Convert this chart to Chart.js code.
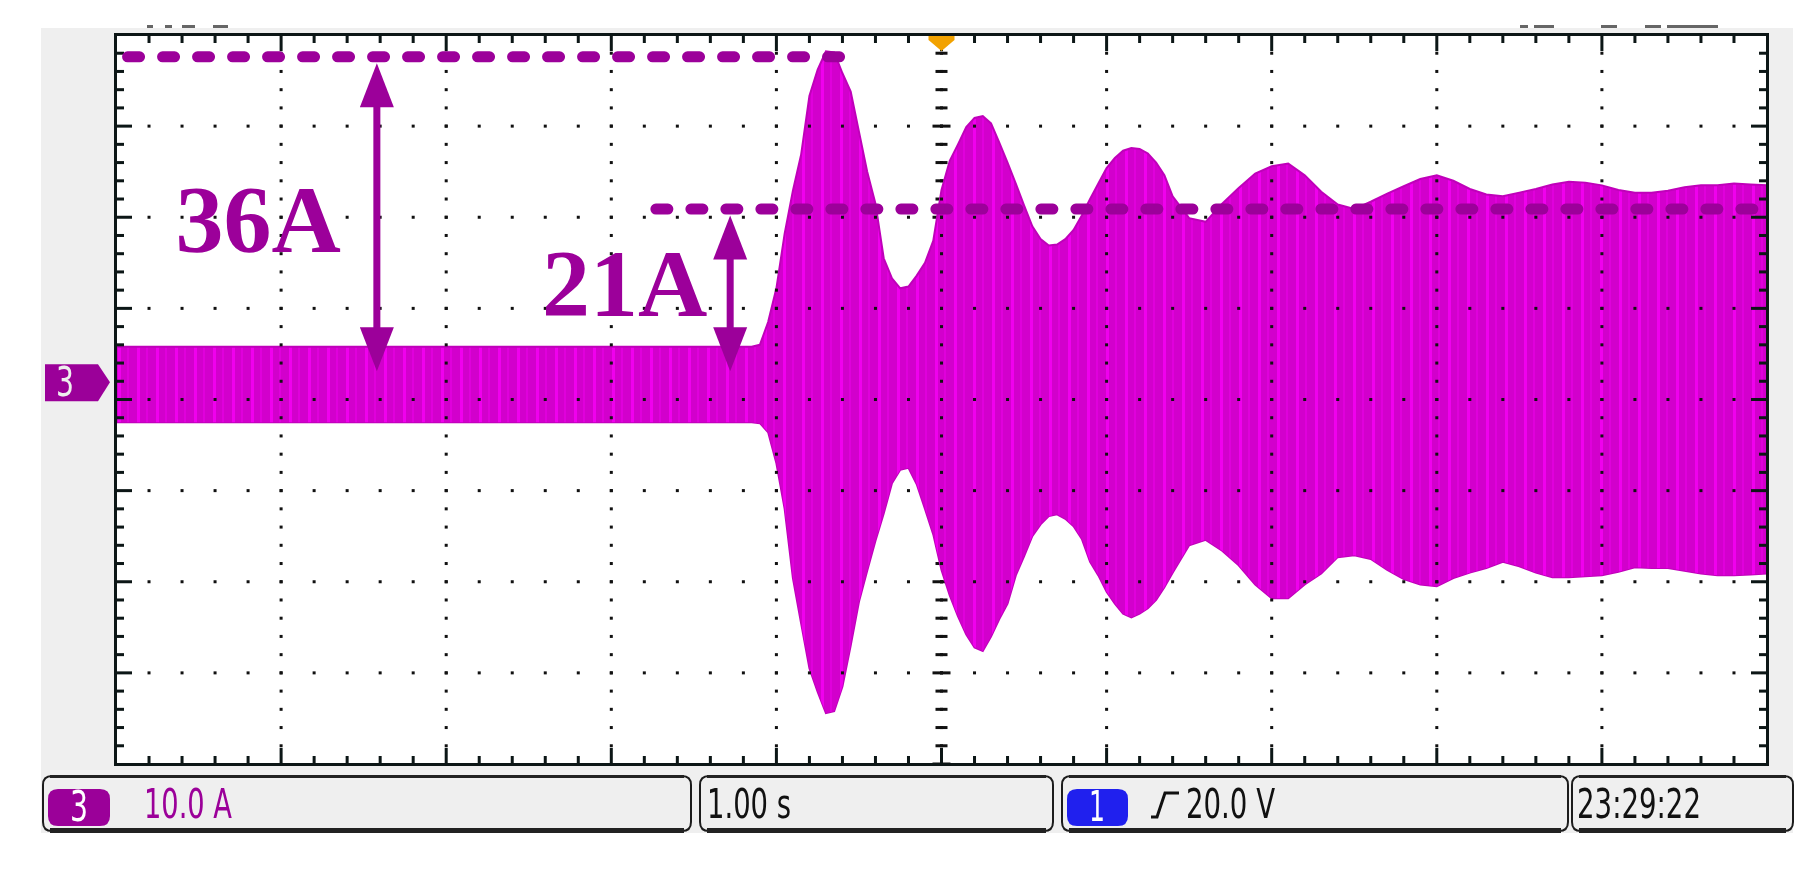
<!DOCTYPE html>
<html>
<head>
<meta charset="utf-8">
<title>Phase current transient</title>
<script src="https://cdn.jsdelivr.net/npm/chart.js@4.4.1/dist/chart.umd.min.js"></script>
<style>
  html, body { margin: 0; padding: 0; background: #fff; }
  #scope { display: block; }
</style>
</head>
<body>
<canvas id="scope" width="1820" height="869"></canvas>
<script>
// time (s) and current envelope (A), 1 s/div, 10 A/div
const timeS = [0, 3.85, 3.90, 3.95, 4.00, 4.05, 4.10, 4.15, 4.20, 4.25, 4.30, 4.35, 4.40, 4.45, 4.50,
  4.55, 4.60, 4.65, 4.70, 4.75, 4.80, 4.85, 4.90, 4.95, 5.00, 5.05, 5.10, 5.15, 5.20, 5.25, 5.30,
  5.35, 5.40, 5.45, 5.50, 5.55, 5.60, 5.65, 5.70, 5.75, 5.80, 5.85, 5.90, 5.95, 6.00, 6.05, 6.10,
  6.15, 6.20, 6.25, 6.30, 6.35, 6.40, 6.5, 6.6, 6.7, 6.8, 6.9, 7.0, 7.1, 7.2, 7.3, 7.4, 7.5, 7.6,
  7.7, 7.8, 7.9, 8.0, 8.1, 8.2, 8.3, 8.4, 8.5, 8.6, 8.7, 8.8, 8.9, 9.0, 9.1, 9.2, 9.3, 9.4, 9.5,
  9.6, 9.7, 9.8, 9.9, 10.0];
const upperA = [3.8, 3.8, 4.0, 6.5, 10.2, 16.2, 20.9, 24.9, 31.3, 34.2, 36.2, 36.1, 33.8, 31.8, 27.4,
  23.0, 19.5, 13.5, 11.3, 10.2, 10.4, 11.6, 13.0, 15.4, 21.0, 24.2, 26.0, 27.9, 28.9, 29.1, 28.3,
  26.2, 24.0, 21.7, 19.3, 17.0, 15.6, 14.9, 15.0, 15.6, 16.6, 18.2, 20.0, 21.7, 23.4, 24.5, 25.3,
  25.6, 25.5, 25.0, 24.0, 22.6, 20.3, 17.9, 17.5, 19.5, 21.2, 22.8, 23.6, 23.9, 22.6, 20.8, 19.4, 18.9, 19.7,
  20.6, 21.4, 22.2, 22.6, 22.0, 21.1, 20.5, 20.3, 20.7, 21.1, 21.6, 21.9, 21.8, 21.5, 21.0, 20.7, 20.7, 20.9, 21.3,
  21.5, 21.5, 21.7, 21.6, 21.5];
const lowerA = [-4.5, -4.5, -4.6, -5.6, -9.0, -14.0, -21.6, -26.6, -31.5, -34.1, -36.4, -36.2, -33.5, -29.0, -24.2,
  -20.8, -17.5, -14.5, -11.2, -9.7, -9.5, -11.3, -14.0, -16.8, -20.7, -23.5, -25.8, -27.8, -29.2, -29.6, -28.0,
  -26.1, -24.4, -21.3, -19.2, -17.0, -15.7, -14.8, -14.6, -15.1, -15.9, -17.3, -19.8, -21.3, -23.1, -24.4, -25.5,
  -25.9, -25.5, -24.9, -24.0, -22.6, -21.0, -18.0, -17.4, -18.6, -20.2, -22.3, -23.8, -23.8, -22.3, -21.1, -19.3, -19.1, -19.5,
  -20.7, -21.7, -22.3, -22.5, -21.6, -21.0, -20.5, -19.8, -20.3, -21.0, -21.5, -21.5, -21.4, -21.3, -20.9, -20.4, -20.5, -20.5, -20.8,
  -21.1, -21.3, -21.3, -21.2, -21.1];

// screen divisions
const timeTicks = [0, 1, 2, 3, 4, 5, 6, 7, 8, 9, 10];
const ampTicks = [-42, -32, -22, -12, -2, 8, 18, 28, 38];

// annotation levels (A) and positions (s)
const peakLevel = 35.6;
const steadyLevel = 18.9;
const arrowFoot = 1.1;
const peakArrowTop = 34.9;
const steadyArrowTop = 18.2;
const peakArrowAt = 1.58;
const steadyArrowAt = 3.72;
const peakLineFrom = 0.07, peakLineTo = 4.41;
const steadyLineFrom = 3.27, steadyLineTo = 9.97;
const peakLabel = '36A', steadyLabel = '21A';

const purple = '#9c009a';
const narrowFont = '"Liberation Sans Narrow", "DejaVu Sans Condensed", "DejaVu Sans"';
const canvas = document.getElementById('scope');

// striped fill like the aliased scope trace
const stripeCanvas = document.createElement('canvas');
stripeCanvas.width = 19;
stripeCanvas.height = 4;
const sc = stripeCanvas.getContext('2d');
sc.fillStyle = 'rgb(210,0,204)';
sc.fillRect(0, 0, 19, 4);
sc.fillStyle = 'rgb(240,0,238)';
sc.fillRect(4, 0, 3, 4);
sc.fillStyle = 'rgb(224,0,220)';
sc.fillRect(13, 0, 2, 4);
const stripes = canvas.getContext('2d').createPattern(stripeCanvas, 'repeat');

function narrowText(ctx, str, x, base, w, color, size) {
  ctx.save();
  ctx.font = size + 'px ' + narrowFont;
  const mw = ctx.measureText(str).width;
  ctx.translate(x, base);
  ctx.scale(w / mw, 1);
  ctx.fillStyle = color;
  ctx.textBaseline = 'alphabetic';
  ctx.fillText(str, 0, 0);
  ctx.restore();
}

function roundBox(ctx, x0, y0, x1, y1, r) {
  ctx.beginPath();
  ctx.moveTo(x0 + r, y0);
  ctx.lineTo(x1 - r, y0);
  ctx.quadraticCurveTo(x1, y0, x1, y0 + r);
  ctx.lineTo(x1, y1 - r);
  ctx.quadraticCurveTo(x1, y1, x1 - r, y1);
  ctx.lineTo(x0 + r, y1);
  ctx.quadraticCurveTo(x0, y1, x0, y1 - r);
  ctx.lineTo(x0, y0 + r);
  ctx.quadraticCurveTo(x0, y0, x0 + r, y0);
  ctx.closePath();
}

function statusBox(ctx, x0, x1) {
  const y0 = 776, y1 = 831;
  roundBox(ctx, x0, y0, x1, y1, 9);
  ctx.fillStyle = '#efefef';
  ctx.fill();
  ctx.strokeStyle = '#1c1c1c';
  ctx.lineWidth = 2;
  ctx.stroke();
  ctx.fillStyle = '#222';
  ctx.fillRect(x0 + 7, y0 - 1, x1 - x0 - 14, 3);
  ctx.fillRect(x0 + 7, y1 - 3, x1 - x0 - 14, 5);
}

function arrow(ctx, x, yTop, yBot) {
  const head = 44, half = 17;
  ctx.fillStyle = purple;
  ctx.fillRect(x - 3.5, yTop + head - 2, 7, yBot - yTop - 2 * head + 4);
  ctx.beginPath();
  ctx.moveTo(x, yTop);
  ctx.lineTo(x - half, yTop + head);
  ctx.lineTo(x + half, yTop + head);
  ctx.closePath();
  ctx.fill();
  ctx.beginPath();
  ctx.moveTo(x, yBot);
  ctx.lineTo(x - half, yBot - head);
  ctx.lineTo(x + half, yBot - head);
  ctx.closePath();
  ctx.fill();
}

function dashed(ctx, x0, x1, y) {
  ctx.save();
  ctx.strokeStyle = purple;
  ctx.lineWidth = 11;
  ctx.lineCap = 'round';
  ctx.setLineDash([12, 23]);
  ctx.beginPath();
  ctx.moveTo(x0, y);
  ctx.lineTo(x1, y);
  ctx.stroke();
  ctx.restore();
}

const scopeScreen = {
  id: 'scopeScreen',
  beforeDraw(chart) {
    const ctx = chart.ctx, a = chart.chartArea;
    const x = chart.scales.x, y = chart.scales.y;
    ctx.save();
    ctx.fillStyle = '#ffffff';
    ctx.fillRect(0, 0, chart.width, chart.height);
    ctx.fillStyle = '#efefef';
    ctx.fillRect(41, 28, 1752, 805);
    ctx.fillStyle = '#ffffff';
    ctx.fillRect(a.left, a.top, a.right - a.left, a.bottom - a.top);
    // centre line ticks, under the trace
    ctx.fillStyle = '#111';
    const cx = x.getPixelForValue(timeTicks[5]);
    for (let k = 0; k <= 40; k++) {
      const py = y.getPixelForValue(ampTicks[0] + k * 2);
      const w = k % 5 === 0 ? 18 : 12;
      ctx.fillRect(cx - w / 2, py - 1.5, w, 3);
    }
    ctx.restore();
  },
  afterDatasetsDraw(chart) {
    const ctx = chart.ctx, a = chart.chartArea;
    const x = chart.scales.x, y = chart.scales.y;
    ctx.save();
    ctx.fillStyle = '#111';
    // dotted graticule
    for (let i = 1; i < timeTicks.length - 1; i++) {
      const px = x.getPixelForValue(timeTicks[i]);
      for (let k = 1; k < 40; k++) {
        const py = y.getPixelForValue(ampTicks[0] + k * 2);
        ctx.fillRect(px - 1.5, py - 1.5, 3, 3);
      }
    }
    for (let j = 1; j < ampTicks.length - 1; j++) {
      const py = y.getPixelForValue(ampTicks[j]);
      for (let k = 1; k < 50; k++) {
        const px = x.getPixelForValue(timeTicks[0] + k * 0.2);
        ctx.fillRect(px - 1.5, py - 1.5, 3, 3);
      }
    }
    // frame ticks
    ctx.fillStyle = '#0c1616';
    for (let k = 1; k < 50; k++) {
      const px = x.getPixelForValue(timeTicks[0] + k * 0.2);
      const len = k % 5 === 0 ? 16 : 8;
      ctx.fillRect(px - 1.5, a.top, 3, len);
      ctx.fillRect(px - 1.5, a.bottom - len, 3, len);
    }
    for (let k = 1; k < 40; k++) {
      const py = y.getPixelForValue(ampTicks[0] + k * 2);
      const len = k % 5 === 0 ? 16 : 8;
      ctx.fillRect(a.left, py - 1.5, len, 3);
      ctx.fillRect(a.right - len, py - 1.5, len, 3);
    }
    ctx.strokeStyle = '#0c1616';
    ctx.lineWidth = 3;
    ctx.strokeRect(a.left - 0.5, a.top - 0.5, a.right - a.left + 1, a.bottom - a.top + 1);
    ctx.restore();
  },
  afterDraw(chart) {
    const ctx = chart.ctx, a = chart.chartArea;
    const x = chart.scales.x, y = chart.scales.y;
    ctx.save();

    // measurement marks
    dashed(ctx, x.getPixelForValue(peakLineFrom), x.getPixelForValue(peakLineTo), y.getPixelForValue(peakLevel));
    dashed(ctx, x.getPixelForValue(steadyLineFrom), x.getPixelForValue(steadyLineTo), y.getPixelForValue(steadyLevel));
    arrow(ctx, x.getPixelForValue(peakArrowAt), y.getPixelForValue(peakArrowTop), y.getPixelForValue(arrowFoot));
    arrow(ctx, x.getPixelForValue(steadyArrowAt), y.getPixelForValue(steadyArrowTop), y.getPixelForValue(arrowFoot));

    ctx.fillStyle = purple;
    ctx.font = 'bold 96px "Liberation Serif"';
    ctx.textBaseline = 'alphabetic';
    ctx.fillText(peakLabel, x.getPixelForValue(0.36), y.getPixelForValue(14.2));
    ctx.fillText(steadyLabel, x.getPixelForValue(2.58), y.getPixelForValue(7.2));

    // trigger position marker
    const tx = x.getPixelForValue(timeTicks[5]);
    ctx.fillStyle = '#f2a200';
    ctx.beginPath();
    ctx.moveTo(tx - 13, a.top + 1);
    ctx.lineTo(tx + 13, a.top + 1);
    ctx.lineTo(tx + 13, a.top + 5);
    ctx.lineTo(tx, a.top + 16);
    ctx.lineTo(tx - 13, a.top + 5);
    ctx.closePath();
    ctx.fill();

    // channel 3 ground marker
    const zy = y.getPixelForValue(0);
    ctx.fillStyle = '#9b0099';
    ctx.beginPath();
    ctx.moveTo(45, zy - 17);
    ctx.lineTo(98, zy - 17);
    ctx.lineTo(110, zy + 1);
    ctx.lineTo(98, zy + 20);
    ctx.lineTo(45, zy + 20);
    ctx.closePath();
    ctx.fill();
    narrowText(ctx, '3', 56, zy + 15, 18, '#eeeeee', 40);

    // clipped header bits above the screen
    ctx.fillStyle = '#666';
    [[147, 6], [165, 7], [182, 13], [213, 15], [1520, 8], [1534, 20], [1601, 16], [1645, 16], [1667, 51]]
      .forEach(s => ctx.fillRect(s[0], 25, s[1], 3));

    // status bar
    statusBox(ctx, 43, 691);
    statusBox(ctx, 700, 1053);
    statusBox(ctx, 1062, 1568);
    statusBox(ctx, 1572, 1793);

    roundBox(ctx, 48, 789, 110, 826, 10);
    ctx.fillStyle = '#9b0099';
    ctx.fill();
    narrowText(ctx, '3', 70, 821, 18, '#ffffff', 42);
    narrowText(ctx, '10.0 A', 144, 818, 88, '#9b0099', 40);

    narrowText(ctx, '1.00 s', 707, 818, 84, '#111111', 40);

    roundBox(ctx, 1067, 789, 1128, 826, 10);
    ctx.fillStyle = '#2020ee';
    ctx.fill();
    narrowText(ctx, '1', 1089, 821, 16, '#ffffff', 42);
    ctx.strokeStyle = '#111';
    ctx.lineWidth = 3;
    ctx.beginPath();
    ctx.moveTo(1151, 817);
    ctx.lineTo(1157, 817);
    ctx.lineTo(1165, 793);
    ctx.lineTo(1179, 793);
    ctx.stroke();
    narrowText(ctx, '20.0 V', 1186, 818, 89, '#111111', 40);

    narrowText(ctx, '23:29:22', 1577, 818, 124, '#111111', 40);
    ctx.restore();
  }
};

new Chart(canvas, {
  type: 'line',
  data: {
    datasets: [{
      label: 'upper',
      data: timeS.map((t, i) => ({ x: t, y: upperA[i] })),
      borderColor: 'rgb(192,0,186)',
      borderWidth: 2,
      backgroundColor: stripes,
      fill: '+1',
      pointRadius: 0,
      tension: 0
    }, {
      label: 'lower',
      data: timeS.map((t, i) => ({ x: t, y: lowerA[i] })),
      borderColor: 'rgb(192,0,186)',
      borderWidth: 2,
      fill: false,
      pointRadius: 0,
      tension: 0
    }]
  },
  options: {
    responsive: false,
    animation: false,
    devicePixelRatio: 1,
    layout: { padding: { left: 116, right: 53, top: 35, bottom: 105 } },
    scales: {
      x: { type: 'linear', min: timeTicks[0], max: timeTicks[timeTicks.length - 1], display: false },
      y: { type: 'linear', min: ampTicks[0], max: ampTicks[ampTicks.length - 1], display: false }
    },
    plugins: {
      legend: { display: false },
      tooltip: { enabled: false }
    }
  },
  plugins: [scopeScreen]
});
</script>
</body>
</html>
